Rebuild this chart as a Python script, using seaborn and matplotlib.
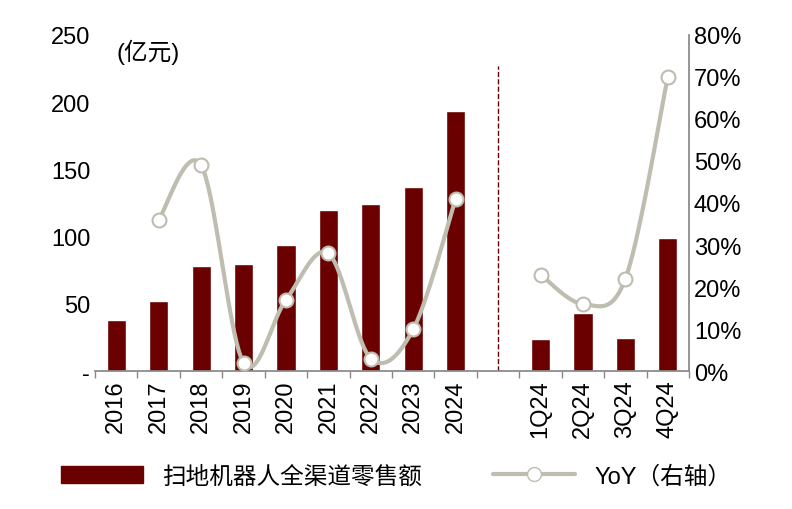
import matplotlib
matplotlib.use("Agg")
import matplotlib.pyplot as plt
import seaborn as sns
import numpy as np
from matplotlib.lines import Line2D
from matplotlib.patches import Patch

categories = ["2016", "2017", "2018", "2019", "2020", "2021", "2022", "2023", "2024", "",
              "1Q24", "2Q24", "3Q24", "4Q24"]
sales = [38, 52, 78, 80, 94, 120, 124, 137, 193, np.nan, 24, 43, 25, 99]
yoy = [np.nan, 36, 49, 2, 17, 28, 3, 10, 41, np.nan, 23, 16, 22, 70]

bar_color = "#6B0000"
line_color = "#BFBDAF"

sns.set_theme(style="white")
plt.rcParams["font.family"] = ["Liberation Sans", "Noto Sans CJK SC"]
plt.rcParams["text.color"] = "black"
plt.rcParams["xtick.color"] = "black"
plt.rcParams["ytick.color"] = "black"
fig, ax1 = plt.subplots(figsize=(7.92, 5.10), dpi=100)
fig.subplots_adjust(left=0.12, right=0.87, top=0.93, bottom=0.27)

fs = 17
x = np.arange(len(categories))
sns.barplot(x=x, y=sales, color=bar_color, width=0.45, ax=ax1, saturation=1)
ax1.set_ylim(0, 250)
ax1.set_yticks([0, 50, 100, 150, 200, 250])
ax1.set_yticklabels(["-", "50", "100", "150", "200", "250"], fontsize=fs)
ax1.set_xticks(x)
ax1.set_xticklabels(categories, rotation=90, fontsize=fs)
ax1.set_xticks(np.arange(-0.5, len(categories)), minor=True)
ax1.set_xlim(-0.5, len(categories) - 0.5)
for s in ["top", "right", "left"]:
    ax1.spines[s].set_visible(False)
ax1.spines["bottom"].set_color("#888888")
ax1.tick_params(axis="x", which="major", length=0, pad=6)
ax1.tick_params(axis="x", which="minor", length=5, color="#888888", direction="out", bottom=True)
ax1.tick_params(axis="y", length=0)
ax1.text(0.0, 247, "(亿元)", fontsize=fs, va="top")

ax2 = ax1.twinx()
ax2.set_ylim(0, 0.8)
ax2.set_yticks(np.arange(0, 0.81, 0.1))
ax2.set_yticklabels([f"{int(round(v*100))}%" for v in np.arange(0, 0.81, 0.1)], fontsize=fs)
for s in ["top", "left", "bottom"]:
    ax2.spines[s].set_visible(False)
ax2.spines["right"].set_color("#888888")
ax2.tick_params(axis="y", length=0)

def smooth(px, py, n=20):
    # Catmull-Rom curve through the points
    px = np.asarray(px, float); py = np.asarray(py, float)
    P = np.column_stack([px, py])
    P = np.vstack([P[0], P, P[-1]])
    out = []
    t = np.linspace(0, 1, n)[:, None]
    for i in range(1, len(P) - 2):
        p0, p1, p2, p3 = P[i-1], P[i], P[i+1], P[i+2]
        seg = 0.5 * ((2*p1) + (-p0 + p2)*t + (2*p0 - 5*p1 + 4*p2 - p3)*t**2 + (-p0 + 3*p1 - 3*p2 + p3)*t**3)
        out.append(seg)
    c = np.vstack(out)
    return c[:, 0], c[:, 1]

yv = np.array(yoy, float) / 100
for idx in ([1, 2, 3, 4, 5, 6, 7, 8], [10, 11, 12, 13]):
    sx, sy = smooth(x[idx], yv[idx])
    ax2.plot(sx, sy, color=line_color, lw=3, zorder=3)
    ax2.plot(x[idx], yv[idx], "o", ms=10, mfc="white", mec=line_color, mew=1.5, zorder=4)

ax1.plot([9, 9], [0, 227], ls="--", color=bar_color, lw=1)

handles = [Patch(color=bar_color),
           Line2D([], [], color=line_color, lw=3, marker="o", ms=10, mfc="white", mec=line_color)]
fig.legend(handles, ["扫地机器人全渠道零售额", "YoY（右轴）"], loc="lower center",
           ncol=2, frameon=False, fontsize=fs, bbox_to_anchor=(0.5, 0.0),
           handlelength=3.5, columnspacing=3)

fig.savefig("out.png", dpi=100)
